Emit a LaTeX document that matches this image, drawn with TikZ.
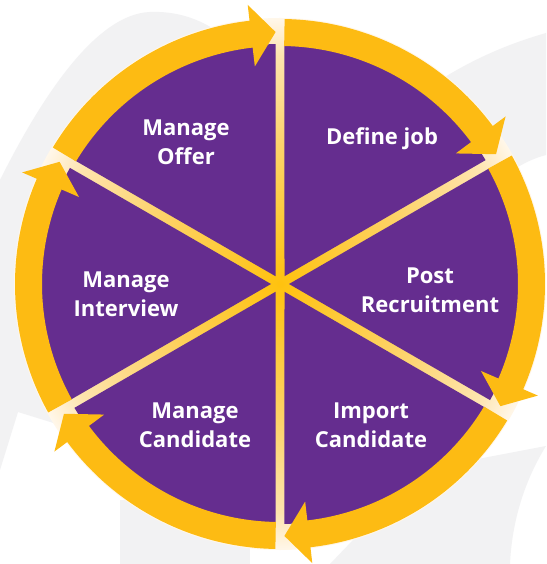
\documentclass[tikz,border=0pt]{standalone}
\usepackage{fontspec}
\setmainfont{Open Sans}
\usepackage{xcolor}
\usepackage{tikz}

\definecolor{wheelpurple}{HTML}{652D8F}
\definecolor{wheelyellow}{HTML}{FDBB13}
\definecolor{glowin}{HTML}{FFC20E}
\definecolor{glowmid}{HTML}{FDD36A}
\definecolor{glowout}{HTML}{FEE4AE}
\definecolor{glowrim}{HTML}{FFF7EA}
\definecolor{bgshade}{HTML}{F2F2F3}

% light glow seen through the gaps
\pgfdeclareradialshading{gapglow}{\pgfpoint{0bp}{0bp}}{color(0bp)=(glowin); color(13bp)=(glowmid); color(21.5bp)=(glowout); color(25bp)=(glowrim); color(50bp)=(glowrim)}

\tikzset{
    sector/.style={fill=wheelpurple},
    ringarrow/.style={fill=wheelyellow},
    backdrop/.style={fill=bgshade},
    steplabel/.style={text=white, font=\bfseries\fontsize{22}{29}\selectfont, align=center}
}

% purple slice between #1 and #1+60 degrees
\newcommand{\wheelsector}[1]{%
    \fill[sector] (#1+30:9) -- (#1+1.07:240)
        arc[start angle=#1+1.07, end angle=#1+58.93, radius=240] -- cycle;}

% yellow arc ending with its head at #1 degrees
\newcommand{\wheelarrow}[1]{%
    \fill[ringarrow] (#1+59:265)
        arc[start angle=#1+59, end angle=#1+6.6, radius=265]
        -- (#1+6.6:281) -- (#1+1:252) -- (#1+6.6:219) -- (#1+6.6:238)
        arc[start angle=#1+6.6, end angle=#1+59, radius=238] -- cycle;}

\begin{document}
\begin{tikzpicture}[x=1pt, y=1pt]
    \useasboundingbox (-280,-280) rectangle (266,284);
    \fill[white] (-280,-280) rectangle (266,284);

    % Backdrop
    \fill[backdrop] (-280,104) .. controls (-240,184) and (-185,270) .. (-130,272)
        .. controls (-80,274) and (-45,244) .. (-25,214) -- (0,0)
        -- (-220,-141) -- (-262,-128) -- (-280,-186) -- cycle;
    \fill[backdrop] (160,204) .. controls (200,229) and (235,242) .. (266,251)
        -- (266,129) .. controls (255,126) and (245,122) .. (230,112) -- cycle;
    \fill[backdrop] (266,-162) .. controls (245,-196) and (232,-236) .. (230,-280)
        -- (50,-280) -- (140,-186) -- cycle;
    \fill[backdrop] (-160,-216) rectangle (-30,-280);

    % Wheel
    \shade[shading=gapglow] (0,0) circle[radius=266];
    \wheelsector{90}
    \wheelsector{30}
    \wheelsector{-30}
    \wheelsector{-90}
    \wheelsector{210}
    \wheelsector{150}

    % Cycle arrows
    \wheelarrow{90}
    \wheelarrow{30}
    \wheelarrow{-30}
    \wheelarrow{-90}
    \wheelarrow{210}
    \wheelarrow{150}

    % Steps
    \node[steplabel] (offer) at (-94,142) {Manage\\Offer};
    \node[steplabel] (definejob) at (102,145) {Define job};
    \node[steplabel] (post) at (150,-6) {Post\\Recruitment};
    \node[steplabel] (import) at (91,-141) {Import\\Candidate};
    \node[steplabel] (candidate) at (-85,-141) {Manage\\Candidate};
    \node[steplabel] (interview) at (-154,-10) {Manage\\Interview};
\end{tikzpicture}
\end{document}
